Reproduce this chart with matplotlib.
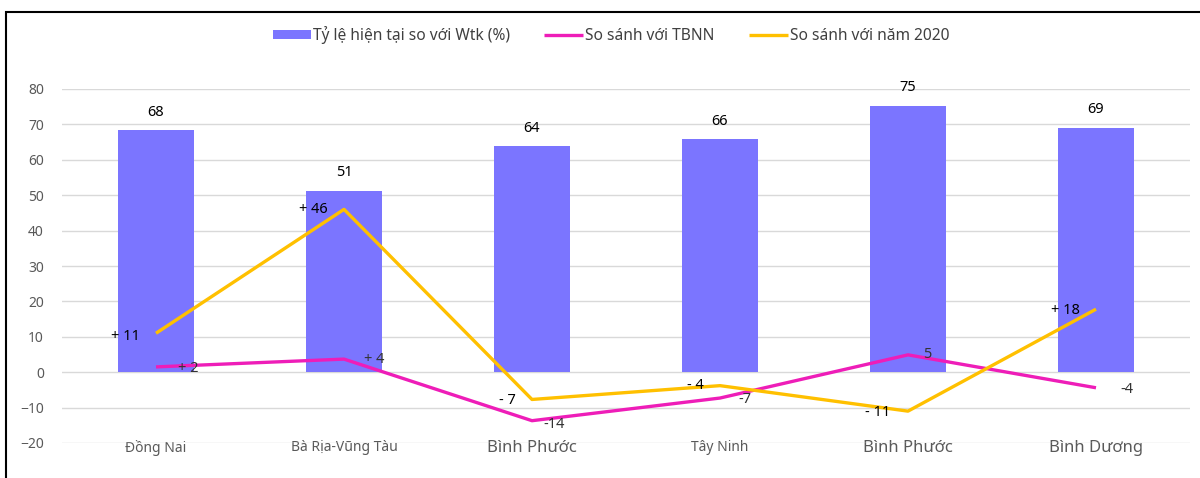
import matplotlib
matplotlib.use("Agg")
import matplotlib.pyplot as plt
from matplotlib.patches import Rectangle

plt.rcParams['font.family'] = ['Noto Sans', 'DejaVu Sans']

categories = ["Đồng Nai", "Bà Rịa-Vũng Tàu", "Bình Phước", "Tây Ninh", "Bình Phước", "Bình Dương"]
ratio_wtk = [68.4, 51.2, 63.8, 65.8, 75.2, 69.0]
ratio_labels = ["68", "51", "64", "66", "75", "69"]
vs_tbnn = [1.5, 3.7, -13.7, -7.3, 4.9, -4.4]
tbnn_labels = ["+ 2", "+ 4", "-14", "-7", "5", "-4"]
vs_2020 = [11, 46, -7.7, -3.8, -11, 17.8]
y2020_labels = ["+ 11", "+ 46", "- 7", "- 4", "- 11", "+ 18"]
yticks = [-20, -10, 0, 10, 20, 30, 40, 50, 60, 70, 80]

bar_color = "#7B75FF"
pink = "#EE1DB8"
gold = "#FFC000"

fig = plt.figure(figsize=(12, 4.78), dpi=100)
ax = fig.add_axes([62/1200, 1-443/478, (1190-62)/1200, (443-89)/478])

x = list(range(len(categories)))
hb = ax.bar(x, ratio_wtk, width=0.40, color=bar_color, zorder=2, label="Tỷ lệ hiện tại so với Wtk (%)")
hp, = ax.plot(x, vs_tbnn, color=pink, lw=2.4, zorder=3, label="So sánh với TBNN", solid_capstyle='butt')
hy, = ax.plot(x, vs_2020, color=gold, lw=2.4, zorder=3, label="So sánh với năm 2020", solid_capstyle='butt')

ax.set_xlim(-0.5, 5.5)
ax.set_ylim(-20, 80)
ax.set_yticks(yticks)
ax.grid(axis='y', color='#D9D9D9', lw=1, zorder=0)
for s in ax.spines.values():
    s.set_visible(False)
ax.tick_params(axis='y', length=0, pad=13, labelcolor='#595959', labelsize=10)
ax.tick_params(axis='x', length=0, pad=-2.5, labelcolor='#595959')
ax.set_xticks(x)
ax.set_xticklabels(categories)
sizes = [10, 10, 12, 10, 12, 12]
for lab, s in zip(ax.get_xticklabels(), sizes):
    lab.set_fontsize(s)

# bar labels
for xi, v, t in zip(x, ratio_wtk, ratio_labels):
    ax.annotate(t, (xi, v), xytext=(0, 13), textcoords='offset points', ha='center', va='center', fontsize=10.5, color='black')

# TBNN labels offsets (points)
tbnn_off = [(23, -1), (22, 0), (16, -3), (18, -1), (14, 0), (22, -1)]
for xi, v, t, off in zip(x, vs_tbnn, tbnn_labels, tbnn_off):
    ax.annotate(t, (xi, v), xytext=off, textcoords='offset points',
                ha='center', va='center', fontsize=10.5, color='#333333')

y20_off = [(-22, -2), (-22, 0), (-18, -1), (-18, 0), (-22, -1), (-22, -1)]
for xi, v, t, off in zip(x, vs_2020, y2020_labels, y20_off):
    ax.annotate(t, (xi, v), xytext=off, textcoords='offset points',
                ha='center', va='center', fontsize=10.5, color='black')

fig.legend(handles=[hb, hp, hy], loc='center', bbox_to_anchor=(0.509, 1-35/478), ncol=3, frameon=False,
           fontsize=11.2, labelcolor='#404040', handlelength=2.5, handletextpad=0.12,
           columnspacing=2.2, handleheight=0.6)

fig.patches.append(Rectangle((6/1200, -0.1), 1.2, 1-12/478+0.1, transform=fig.transFigure,
                             fill=False, edgecolor='black', lw=1.5, clip_on=False))

fig.savefig("out.png", dpi=100)
